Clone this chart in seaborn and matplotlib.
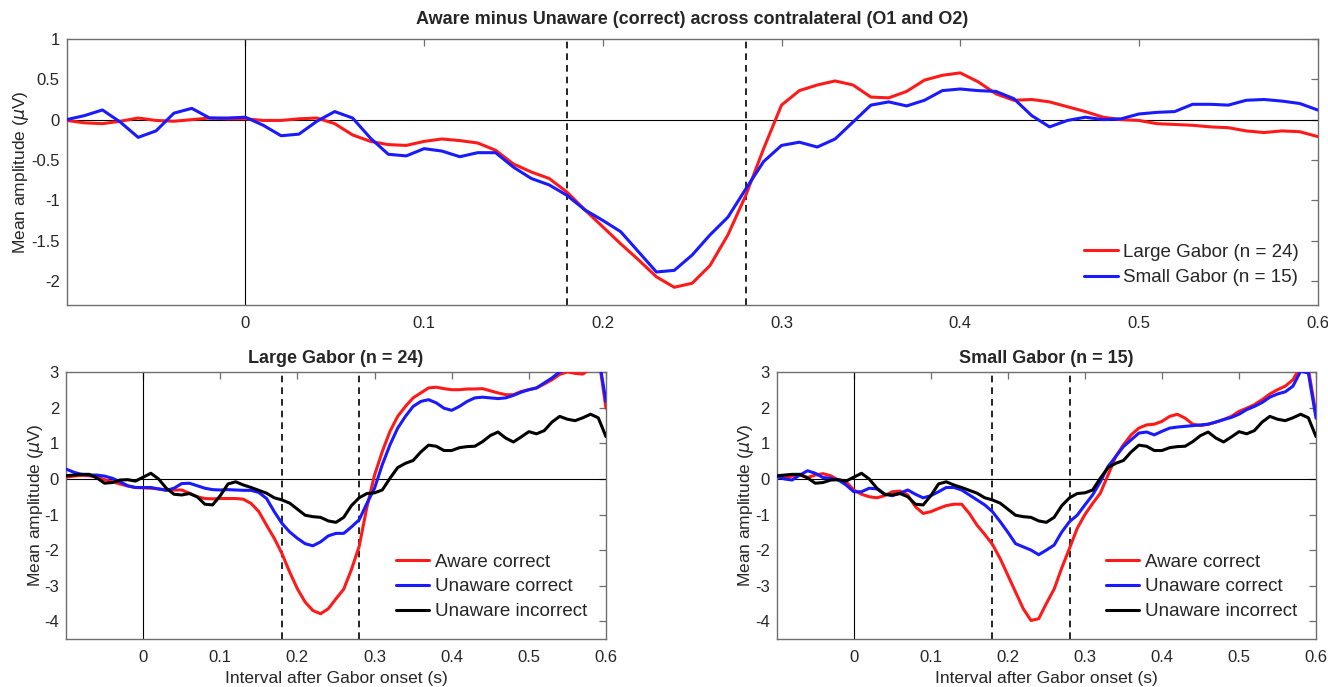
import numpy as np
import pandas as pd
import matplotlib
matplotlib.use("Agg")
import matplotlib.pyplot as plt
import seaborn as sns

# ---------------- data ----------------
time_s = np.round(np.arange(-0.10, 0.6001, 0.01), 2)

# top panel: aware minus unaware (correct)
diff_large = [-0.01, -0.04, -0.05, -0.02, 0.02, -0.01, -0.02, 0.00, 0.02, 0.01,
              0.01, -0.01, -0.01, 0.01, 0.02, -0.05, -0.19, -0.27, -0.31, -0.32,
              -0.27, -0.24, -0.26, -0.29, -0.38, -0.55, -0.65, -0.73, -0.90, -1.12,
              -1.33, -1.54, -1.74, -1.95, -2.08, -2.03, -1.81, -1.43, -0.94, -0.36,
              0.18, 0.36, 0.43, 0.48, 0.43, 0.28, 0.27, 0.35, 0.49, 0.55,
              0.58, 0.47, 0.32, 0.24, 0.25, 0.22, 0.16, 0.10, 0.03, 0.00,
              -0.01, -0.05, -0.06, -0.07, -0.09, -0.10, -0.14, -0.16, -0.14, -0.15,
              -0.21]
diff_small = [0.00, 0.05, 0.12, -0.03, -0.22, -0.14, 0.08, 0.14, 0.02, 0.02,
              0.03, -0.07, -0.20, -0.18, -0.02, 0.10, 0.02, -0.23, -0.43, -0.45,
              -0.36, -0.39, -0.46, -0.41, -0.41, -0.59, -0.73, -0.81, -0.94, -1.12,
              -1.25, -1.39, -1.64, -1.89, -1.87, -1.68, -1.43, -1.21, -0.86, -0.52,
              -0.32, -0.28, -0.34, -0.24, -0.03, 0.18, 0.22, 0.17, 0.24, 0.36,
              0.38, 0.36, 0.35, 0.26, 0.05, -0.09, -0.01, 0.03, 0.00, 0.01,
              0.07, 0.09, 0.10, 0.19, 0.19, 0.18, 0.24, 0.25, 0.23, 0.20,
              0.12]

# bottom-left: Large Gabor (n = 24)
large_aware_correct = [0.05, 0.08, 0.10, 0.09, 0.05, -0.02, -0.08, -0.14, -0.20, -0.24,
                       -0.25, -0.26, -0.28, -0.31, -0.31, -0.31, -0.40, -0.50, -0.55, -0.56,
                       -0.55, -0.55, -0.55, -0.57, -0.69, -0.92, -1.30, -1.67, -2.10, -2.62,
                       -3.09, -3.46, -3.70, -3.79, -3.65, -3.37, -3.10, -2.55, -1.90, -0.80,
                       0.11, 0.77, 1.34, 1.76, 2.04, 2.28, 2.42, 2.56, 2.58, 2.54,
                       2.51, 2.51, 2.53, 2.53, 2.54, 2.48, 2.42, 2.37, 2.37, 2.46,
                       2.51, 2.56, 2.67, 2.79, 2.94, 3.01, 2.97, 2.95, 3.10, 3.50,
                       1.99]
large_unaware_correct = [0.28, 0.19, 0.13, 0.11, 0.11, 0.08, 0.02, -0.08, -0.19, -0.24,
                         -0.24, -0.24, -0.28, -0.32, -0.26, -0.13, -0.12, -0.19, -0.26, -0.30,
                         -0.31, -0.30, -0.31, -0.32, -0.32, -0.38, -0.55, -0.92, -1.25, -1.49,
                         -1.67, -1.82, -1.88, -1.77, -1.60, -1.53, -1.53, -1.35, -1.15, -0.69,
                         -0.26, 0.40, 0.96, 1.43, 1.76, 2.04, 2.18, 2.23, 2.14, 1.99,
                         1.93, 2.04, 2.18, 2.28, 2.30, 2.28, 2.26, 2.28, 2.35, 2.44,
                         2.51, 2.56, 2.70, 2.84, 3.01, 3.10, 3.20, 3.30, 3.40, 3.50,
                         2.18]

# bottom-right: Small Gabor (n = 15)
small_aware_correct = [0.08, 0.04, 0.08, 0.11, 0.04, 0.11, 0.15, 0.09, -0.03, -0.08,
                       -0.31, -0.43, -0.50, -0.53, -0.47, -0.36, -0.34, -0.45, -0.78, -0.97,
                       -0.92, -0.83, -0.75, -0.71, -0.71, -0.97, -1.30, -1.56, -1.84, -2.24,
                       -2.71, -3.18, -3.65, -3.98, -3.93, -3.50, -3.10, -2.50, -1.95, -1.39,
                       -1.00, -0.69, -0.40, 0.11, 0.63, 0.96, 1.24, 1.43, 1.52, 1.54,
                       1.62, 1.76, 1.82, 1.71, 1.54, 1.50, 1.54, 1.60, 1.67, 1.76,
                       1.90, 1.99, 2.09, 2.23, 2.39, 2.51, 2.61, 2.79, 3.17, 3.10,
                       1.81]
small_unaware_correct = [0.07, 0.00, -0.03, 0.11, 0.23, 0.16, 0.04, 0.02, -0.03, -0.17,
                         -0.36, -0.36, -0.26, -0.28, -0.43, -0.47, -0.40, -0.31, -0.43, -0.53,
                         -0.47, -0.36, -0.24, -0.24, -0.31, -0.45, -0.59, -0.73, -0.92, -1.20,
                         -1.50, -1.82, -1.91, -2.00, -2.13, -2.00, -1.86, -1.49, -1.20, -1.02,
                         -0.73, -0.45, -0.08, 0.35, 0.63, 0.91, 1.10, 1.29, 1.32, 1.24,
                         1.34, 1.43, 1.46, 1.48, 1.50, 1.52, 1.54, 1.60, 1.67, 1.73,
                         1.82, 1.95, 2.04, 2.15, 2.30, 2.39, 2.45, 2.61, 3.03, 2.98,
                         1.71]

# unaware incorrect (same trace in both bottom panels)
unaware_incorrect = [0.09, 0.11, 0.13, 0.13, 0.03, -0.12, -0.10, -0.03, -0.02, -0.06,
                     0.05, 0.16, 0.00, -0.26, -0.43, -0.45, -0.41, -0.50, -0.71, -0.73,
                     -0.47, -0.14, -0.08, -0.17, -0.24, -0.32, -0.40, -0.53, -0.59, -0.68,
                     -0.85, -1.02, -1.06, -1.08, -1.18, -1.22, -1.08, -0.75, -0.53, -0.41,
                     -0.39, -0.31, 0.02, 0.32, 0.44, 0.52, 0.76, 0.95, 0.92, 0.80,
                     0.80, 0.88, 0.91, 0.92, 1.05, 1.22, 1.32, 1.15, 1.04, 1.18,
                     1.33, 1.27, 1.36, 1.60, 1.76, 1.68, 1.64, 1.72, 1.82, 1.72,
                     1.19]

top_labels = ["Large Gabor (n = 24)", "Small Gabor (n = 15)"]
cond_labels = ["Aware correct", "Unaware correct", "Unaware incorrect"]
x_ticks = [0, 0.1, 0.2, 0.3, 0.4, 0.5, 0.6]
top_yticks = [-2, -1.5, -1, -0.5, 0, 0.5, 1]
bottom_yticks = [-4, -3, -2, -1, 0, 1, 2, 3]
window = [0.18, 0.28]

# ---------------- style ----------------
sns.set_theme(style="white")
plt.rcParams['font.family'] = ['Liberation Sans', 'DejaVu Sans']
plt.rcParams['axes.unicode_minus'] = False
plt.rcParams['mathtext.fontset'] = 'dejavusans'

RED = "#ff1a1a"
BLUE = "#1a1aff"
BLACK = "#000000"
SPINE = "#6e6e6e"
TXT = "#262626"

fig = plt.figure(figsize=(13.28, 6.87), dpi=100)
ax_top = fig.add_axes([0.0502, 0.5560, 0.9420, 0.3872])
ax_bl = fig.add_axes([0.0497, 0.0699, 0.4066, 0.3882])
ax_br = fig.add_axes([0.5849, 0.0699, 0.4061, 0.3882])


def fmt(v):
    return "{:g}".format(v)


def style(ax, ylim, yticks, ylabelpad):
    ax.set_xlim(-0.1, 0.6)
    ax.set_ylim(*ylim)
    ax.set_xticks(x_ticks)
    ax.set_xticklabels([fmt(v) for v in x_ticks])
    ax.set_yticks(yticks)
    ax.set_yticklabels([fmt(v) for v in yticks])
    ax.tick_params(direction='in', top=True, right=True, length=5, width=0.9,
                   colors=SPINE, labelcolor=TXT, labelsize=12)
    ax.tick_params(axis='x', pad=8)
    ax.tick_params(axis='y', pad=5)
    for s in ax.spines.values():
        s.set_color(SPINE)
        s.set_linewidth(1.0)
    ax.axhline(0, color='black', lw=0.8, zorder=1)
    ax.axvline(0, color='black', lw=0.8, zorder=1)
    for x in window:
        ax.axvline(x, color='black', lw=1.2, ls=(0, (4, 3)), zorder=1)
    ax.set_ylabel(r'Mean amplitude ($\mu$V)', fontsize=12.5, color=TXT, labelpad=ylabelpad)


# top panel
df_top = pd.DataFrame({
    "t": np.concatenate([time_s, time_s]),
    "v": diff_large + diff_small,
    "cond": [top_labels[0]] * len(time_s) + [top_labels[1]] * len(time_s),
})
sns.lineplot(data=df_top, x="t", y="v", hue="cond", hue_order=top_labels,
             palette={top_labels[0]: RED, top_labels[1]: BLUE},
             estimator=None, errorbar=None, lw=2.2, legend=False, ax=ax_top, zorder=3)
handles = list(ax_top.get_lines())[:2]
style(ax_top, (-2.3, 1), top_yticks, 0)
ax_top.set_xlabel("")
ax_top.set_title("Aware minus Unaware (correct) across contralateral (O1 and O2)",
                 fontsize=13, fontweight='bold', color=TXT, pad=11)
ax_top.legend(handles, top_labels, loc='lower right', frameon=False, fontsize=13.5,
              handlelength=1.8, handletextpad=0.3, labelspacing=0.46,
              borderaxespad=0.6, labelcolor=TXT)

# bottom panels
for ax, title, aware, unaware in [
        (ax_bl, "Large Gabor (n = 24)", large_aware_correct, large_unaware_correct),
        (ax_br, "Small Gabor (n = 15)", small_aware_correct, small_unaware_correct)]:
    df = pd.DataFrame({
        "t": np.concatenate([time_s, time_s, time_s]),
        "v": aware + unaware + unaware_incorrect,
        "cond": [cond_labels[0]] * len(time_s) + [cond_labels[1]] * len(time_s)
                + [cond_labels[2]] * len(time_s),
    })
    sns.lineplot(data=df, x="t", y="v", hue="cond", hue_order=cond_labels,
                 palette={cond_labels[0]: RED, cond_labels[1]: BLUE, cond_labels[2]: BLACK},
                 estimator=None, errorbar=None, lw=2.2, legend=False, ax=ax, zorder=3)
    hs = list(ax.get_lines())[:3]
    style(ax, (-4.5, 3), bottom_yticks, -1)
    ax.set_xlabel("Interval after Gabor onset (s)", fontsize=12.5, color=TXT, labelpad=4)
    ax.set_title(title, fontsize=13, fontweight='bold', color=TXT, pad=7)
    ax.legend(hs, cond_labels, loc='lower right', frameon=False, fontsize=13.5,
              handlelength=1.8, handletextpad=0.3, labelspacing=0.41,
              borderaxespad=0.6, labelcolor=TXT)

fig.savefig("out.png", dpi=100)
